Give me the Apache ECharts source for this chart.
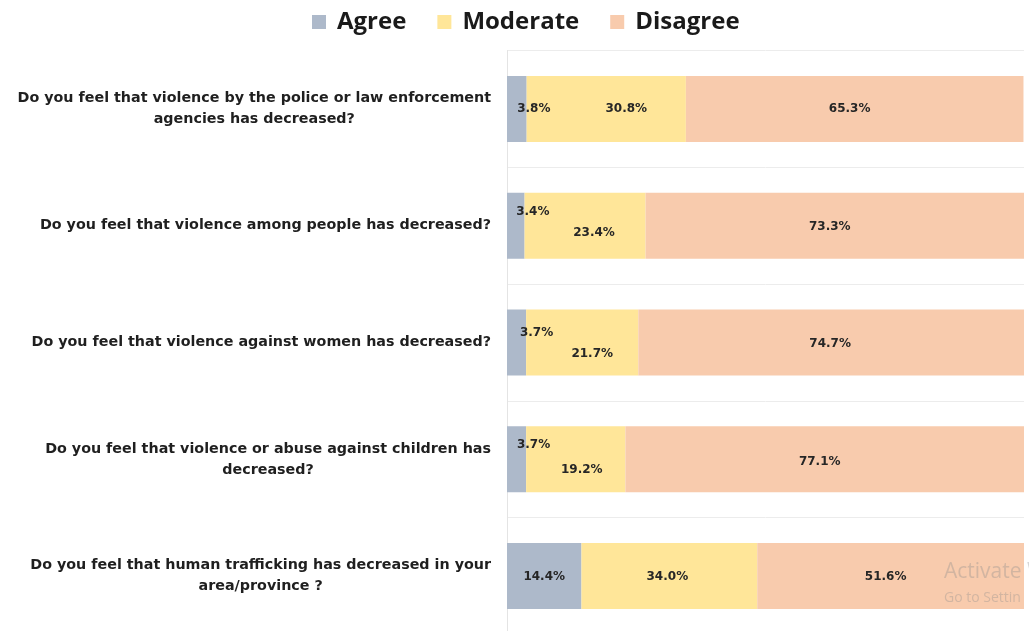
<!DOCTYPE html>
<html>
<head>
<meta charset="utf-8">
<script src="https://cdn.jsdelivr.net/npm/echarts@6/dist/echarts.min.js"></script>
<style>
html,body{margin:0;padding:0;background:#fff;}
#chart{width:1029px;height:631px;}
</style>
</head>
<body>
<div id="chart"></div>
<script>
const categories = [
  "Do you feel that violence by the police or law enforcement\nagencies has decreased?",
  "Do you feel that violence among people has decreased?",
  "Do you feel that violence against women has decreased?",
  "Do you feel that violence or abuse against children has\ndecreased?",
  "Do you feel that human trafficking has decreased in your\narea/province ?"
];
const seriesNames = ["Agree", "Moderate", "Disagree"];
const agree = [3.8, 3.4, 3.7, 3.7, 14.4];
const moderate = [30.8, 23.4, 21.7, 19.2, 34.0];
const disagree = [65.3, 73.3, 74.7, 77.1, 51.6];

// label offsets (style only) per series per row
const labelOffsets = {
  Agree:    [[17,0],[17,-13.5],[20,-9.5],[17,-14],[0,1]],
  Moderate: [[20,0],[9,7.5],[10,11.5],[6,10.5],[-2,1]],
  Disagree: [[-5,0],[-5,1.5],[-1,1.5],[-5,2.5],[-5,1]]
};
const colors = {Agree:"#ADB9CA", Moderate:"#FFE699", Disagree:"#F8CBAD"};
const values = {Agree: agree, Moderate: moderate, Disagree: disagree};

const chart = echarts.init(document.getElementById('chart'));
const FONT = "'DejaVu Sans', sans-serif";
const LFONT = "'Open Sans', sans-serif";
const series = seriesNames.map(name => ({
  name: name,
  type: 'bar',
  stack: 'total',
  barWidth: 66,
  itemStyle: {color: colors[name]},
  data: values[name].map((v, i) => ({
    value: v,
    label: {offset: labelOffsets[name][i]}
  })),
  label: {
    show: true,
    position: 'inside',
    formatter: p => p.value.toFixed(1) + '%',
    fontFamily: FONT,
    fontWeight: 'bold',
    fontSize: 12,
    color: '#262626'
  }
}));

chart.setOption({
  animation: false,
  legend: {
    top: 5,
    left: 307,
    itemWidth: 14,
    itemHeight: 14,
    itemGap: 31,
    icon: 'rect',
    textStyle: {fontFamily: LFONT, fontWeight: 'bold', fontSize: 24, color: '#1a1a1a', padding: [0, 0, 0, 6]},
    data: seriesNames
  },
  grid: {left: 507, right: 5, top: 50.5, height: 584, outerBoundsMode: 'none', containLabel: false},
  xAxis: {
    type: 'value', min: 0, max: 100,
    axisLabel: {show: false}, axisLine: {show: false},
    axisTick: {show: false}, splitLine: {show: false}
  },
  yAxis: {
    type: 'category',
    inverse: true,
    data: categories,
    axisLine: {show: true, lineStyle: {color: '#e4e4e4'}},
    axisTick: {show: false},
    splitLine: {show: true, lineStyle: {color: '#ececec'}},
    axisLabel: {
      margin: 16,
      align: 'right',
      formatter: v => '{a|' + v.split('\n').join('}\n{a|') + '}',
      rich: {
        a: {
          align: 'center',
          fontFamily: FONT, fontWeight: 'bold', fontSize: 14.3,
          color: '#1f1f1f', lineHeight: 21
        }
      }
    }
  },
  graphic: [
    {type: 'text', z: 100, x: 944, y: 562, style: {text: 'Activate W', fontFamily: LFONT, fontSize: 21, fill: 'rgba(140,140,140,0.35)'}},
    {type: 'text', z: 100, x: 944, y: 591, style: {text: 'Go to Settin', fontFamily: LFONT, fontSize: 14, fill: 'rgba(140,140,140,0.35)'}}
  ],
  series: series
});
</script>
</body>
</html>
